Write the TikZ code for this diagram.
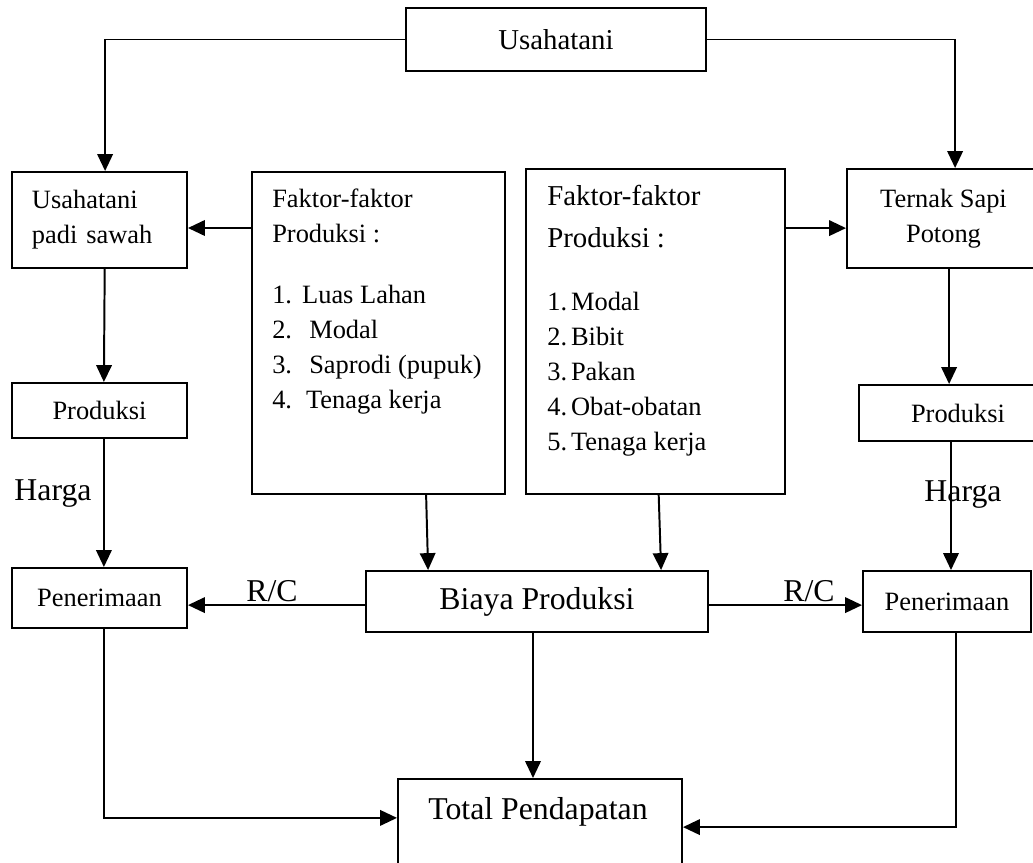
\documentclass[tikz,border=0pt]{standalone}
\usepackage{fontspec}
\setmainfont{Liberation Serif}
\usetikzlibrary{arrows.meta}

\newcommand{\fs}{\fontsize{18.8pt}{24.9pt}\selectfont}
\newcommand{\fm}{\fontsize{20.5pt}{29.9pt}\selectfont}
\newcommand{\fl}{\fontsize{22.6pt}{27pt}\selectfont}
\newcommand{\nr}[2]{\makebox[#1][l]{#2}}

\tikzset{
  box/.style={draw, line width=1.4pt, inner sep=0pt},
  arr/.style={-{Triangle[length=12pt,width=11pt]}, line width=1.4pt},
  txt/.style={inner sep=0pt, align=left, anchor=north west}
}

\begin{document}
\begin{tikzpicture}
		% Kerangka pemikiran usahatani
		\useasboundingbox (0,0) rectangle (25.825,-21.575);
		\node[box,minimum width=7.5cm,minimum height=1.575cm,font=\fm] (usahatani) at (13.9,-0.9875) {Usahatani};
		\node[box,minimum width=4.375cm,minimum height=2.4cm,font=\fs,text width=3.375cm,align=left] (padi) at (2.4875,-5.5) {Usahatani\\padi sawah};
		\node[box,minimum width=6.325cm,minimum height=8.05cm,line width=1pt] (faktorA) at (9.4625,-8.325) {};
		\node[txt,font=\fs] (faktorAtxt) at (6.8,-4.725) {Faktor-faktor\\Produksi :\\[18.5pt]\nr{1.13em}{1.}Luas Lahan\\ \nr{1.4em}{2.}Modal\\ \nr{1.4em}{3.}Saprodi (pupuk)\\ \nr{1.28em}{4.}Tenaga kerja};
		\node[box,minimum width=6.475cm,minimum height=8.125cm] (faktorB) at (16.3875,-8.2875) {};
		\node[txt,font=\fm] (faktorBhead) at (13.675,-4.625) {Faktor-faktor\\Produksi :};
		\node[txt,font=\fs] (faktorBlist) at (13.675,-7.3) {\nr{0.9em}{1.}Modal\\ \nr{0.9em}{2.}Bibit\\ \nr{0.9em}{3.}Pakan\\ \nr{0.9em}{4.}Obat-obatan\\ \nr{0.9em}{5.}Tenaga kerja};
		\node[box,minimum width=4.825cm,minimum height=2.475cm,font=\fs,align=center] (sapi) at (23.5875,-5.4625) {Ternak Sapi\\Potong};
		\node[box,minimum width=4.375cm,minimum height=1.375cm,font=\fs] (prodA) at (2.4875,-10.2625) {Produksi};
		\node[box,minimum width=4.95cm,minimum height=1.4cm,font=\fs] (prodB) at (23.95,-10.325) {Produksi};
		\node[box,minimum width=4.375cm,minimum height=1.5cm,font=\fs] (terimaA) at (2.4875,-14.95) {Penerimaan};
		\node[box,minimum width=8.55cm,minimum height=1.525cm,font=\fl] (biaya) at (13.425,-15.0375) {Biaya Produksi};
		\node[box,minimum width=4.2cm,minimum height=1.525cm,font=\fs] (terimaB) at (23.675,-15.0375) {Penerimaan};
		\node[box,minimum width=7.1cm,minimum height=2.525cm] (total) at (13.5,-20.7375) {};
		\node[inner sep=0pt,anchor=base,font=\fl] (totaltxt) at (13.45,-20.475) {Total Pendapatan};
		
		\node[font=\fl,inner sep=0pt] (hargaA) at (1.325,-12.3375) {Harga};
		\node[font=\fl,inner sep=0pt] (hargaB) at (24.075,-12.3625) {Harga};
		\node[font=\fl,inner sep=0pt] (rcA) at (6.8,-14.77) {R/C};
		\node[font=\fl,inner sep=0pt] (rcB) at (20.225,-14.77) {R/C};
		
		\coordinate (inA) at ([yshift=-2mm]padi.east);
		\coordinate (inB) at ([yshift=-2.4mm]sapi.west);
		\draw[arr] (usahatani.west) -| ([xshift=1.4mm]padi.north);
		\draw[arr] (usahatani.east) -| ([xshift=2.9mm]sapi.north);
		\draw[arr] (faktorA.west |- inA) -- (inA);
		\draw[arr] (faktorB.east |- inB) -- (inB);
		\draw[arr] ([xshift=1.3mm]padi.south) -- ([xshift=1.1mm]prodA.north);
		\draw[arr] ([xshift=1.1mm]prodA.south) -- ([xshift=1.1mm]terimaA.north);
		\draw[arr] ([xshift=1.4mm]sapi.south) -- ([xshift=1.4mm]sapi.south |- prodB.north);
		\draw[arr] ([xshift=-1.75mm]prodB.south) -- ([xshift=-1.75mm]prodB.south |- terimaB.north);
		\draw[arr] ([xshift=11.9mm]faktorA.south) -- ([xshift=12.4mm]faktorA.south |- biaya.north);
		\draw[arr] ([xshift=0.8mm]faktorB.south) -- ([xshift=1.4mm]faktorB.south |- biaya.north);
		\draw[arr] ([yshift=-0.9mm]biaya.west) -- ([yshift=-0.9mm]biaya.west -| terimaA.east);
		\draw[arr] ([yshift=-0.9mm]biaya.east) -- ([yshift=-0.9mm]biaya.east -| terimaB.west);
		\draw[arr] ([xshift=-1mm]biaya.south) -- ([xshift=-1mm]biaya.south |- total.north);
		\draw[arr] ([xshift=1.1mm]terimaA.south) |- ([yshift=2.9mm]total.west);
		\draw[arr] ([xshift=2.25mm]terimaB.south) |- ([yshift=0.6mm]total.east);
		
		\end{tikzpicture}
\end{document}
